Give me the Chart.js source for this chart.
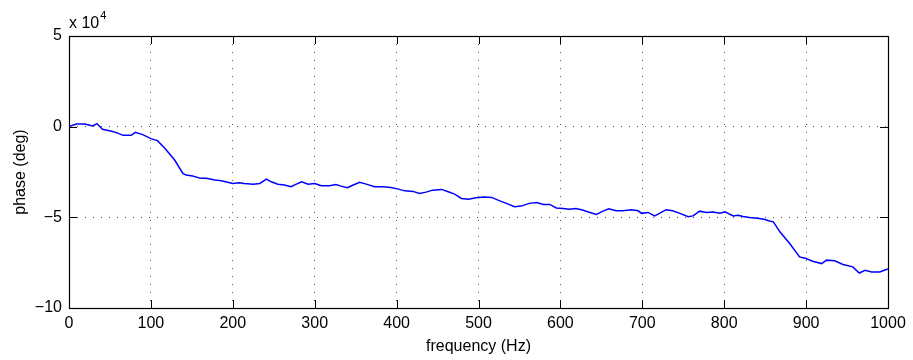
<!DOCTYPE html>
<html>
<head>
<meta charset="utf-8">
<script src="https://cdn.jsdelivr.net/npm/chart.js@4/dist/chart.umd.min.js"></script>
<style>
  html, body { margin: 0; padding: 0; background: #fff; }
  #wrap { width: 913px; height: 360px; position: relative; }
</style>
</head>
<body>
<div id="wrap"><canvas id="c"></canvas></div>
<script>
// frequency (Hz)
const freqHz = [0, 9, 19, 29, 34, 41, 52, 58, 66, 76, 81, 90, 100, 108, 117, 129, 139, 143, 151, 161,
  168, 178, 186, 200, 208, 214, 225, 233, 241, 247, 255, 263, 271, 277, 284, 292, 300, 308, 318, 326,
  332, 340, 347, 355, 363, 373, 383, 393, 401, 410, 420, 428, 436, 444, 455, 463, 471, 479, 488, 497,
  507, 516, 526, 534, 544, 552, 562, 571, 579, 587, 595, 603, 611, 619, 627, 636, 644, 652, 659, 668,
  676, 687, 695, 699, 707, 715, 721, 729, 737, 746, 756, 762, 770, 778, 786, 795, 801, 811, 817, 823,
  831, 843, 850, 854, 860, 868, 880, 892, 900, 908, 919, 925, 935, 945, 957, 965, 972, 980, 990, 998, 1000];
// phase (deg)
const phaseDeg = [0, 1500, 1500, 400, 1700, -1400, -2500, -3300, -4800, -4800, -3100, -4400, -6600, -7700, -11900, -18400, -25800, -26700, -27200, -28500,
  -28500, -29400, -29800, -31300, -30900, -31300, -31700, -31300, -28900, -30400, -31700, -32200, -33100, -31800, -30400, -31700, -31300, -32600, -32600, -31900,
  -32800, -33700, -32200, -30700, -31700, -33100, -33100, -33500, -34300, -35400, -35700, -36800, -36100, -35000, -34600, -35900, -37200, -39600, -40000, -39200,
  -38800, -39000, -40900, -42300, -44200, -43800, -42300, -41800, -42900, -42900, -44800, -45100, -45600, -45100, -46000, -47300, -48400, -46600, -45300, -46400,
  -46400, -45800, -46400, -47800, -47300, -49200, -47800, -45800, -46400, -47800, -49700, -49200, -46600, -47300, -47000, -47800, -47000, -49200, -48800, -49500,
  -50100, -50600, -51200, -51900, -52500, -58000, -64400, -71800, -72700, -74200, -75500, -73600, -74000, -76000, -77300, -80700, -79200, -80100, -80100, -78800, -78500];

const xTicks = [0, 100, 200, 300, 400, 500, 600, 700, 800, 900, 1000];
const yTicks = [-100000, -50000, 0, 50000];
const yExponent = 4;

const points = freqHz.map((f, i) => ({ x: f, y: phaseDeg[i] }));

const FONT = "'Liberation Sans', Arial, Helvetica, sans-serif";
const TICK_SIZE = 16;
const TITLE_SIZE = 16;

const matlabBox = {
  id: 'matlabBox',
  afterDatasetsDraw(chart) {
    const { ctx, chartArea: a, scales } = chart;
    const xs = scales.x, ys = scales.y;
    const L = 8;
    ctx.save();
    ctx.strokeStyle = '#000';
    ctx.lineWidth = 1;
    ctx.beginPath();
    xTicks.forEach(v => {
      const px = Math.round(xs.getPixelForValue(v)) + 0.5;
      ctx.moveTo(px, a.bottom); ctx.lineTo(px, a.bottom - L);
      ctx.moveTo(px, a.top); ctx.lineTo(px, a.top + L);
    });
    yTicks.forEach(v => {
      const py = Math.round(ys.getPixelForValue(v)) + 0.5;
      ctx.moveTo(a.left, py); ctx.lineTo(a.left + L, py);
      ctx.moveTo(a.right, py); ctx.lineTo(a.right - L, py);
    });
    ctx.stroke();
    ctx.lineWidth = 1.2;
    ctx.strokeRect(Math.round(a.left) + 0.5, Math.round(a.top) + 0.5,
      Math.round(a.right - a.left), Math.round(a.bottom - a.top));
    // exponent label
    ctx.fillStyle = '#000';
    ctx.textBaseline = 'alphabetic';
    ctx.textAlign = 'left';
    ctx.font = TICK_SIZE + 'px ' + FONT;
    const base = 'x 10';
    ctx.fillText(base, a.left, a.top - 8);
    const w = ctx.measureText(base).width;
    ctx.font = '11px ' + FONT;
    ctx.fillText(String(yExponent), a.left + w + 1, a.top - 17);
    ctx.restore();
  }
};

new Chart(document.getElementById('c'), {
  type: 'line',
  data: {
    datasets: [{
      data: points,
      borderColor: '#0000ff',
      borderWidth: 1.5,
      pointRadius: 0,
      tension: 0,
      fill: false
    }]
  },
  options: {
    responsive: true,
    maintainAspectRatio: false,
    animation: false,
    layout: { padding: { top: 36, right: 25, left: 0, bottom: 0 } },
    plugins: { legend: { display: false }, tooltip: { enabled: false } },
    scales: {
      x: {
        type: 'linear',
        min: 0, max: 1000,
        afterBuildTicks: s => { s.ticks = xTicks.map(v => ({ value: v })); },
        afterFit: s => { s.height = 52; },
        ticks: {
          color: '#000', font: { family: FONT, size: TICK_SIZE }, padding: 6, maxRotation: 0, autoSkip: false,
          callback: v => String(v)
        },
        grid: {
          drawTicks: false,
          color: c => (c.tick && (c.tick.value === 0 || c.tick.value === 1000)) ? 'rgba(0,0,0,0)' : 'rgba(0,0,0,0.65)',
          lineWidth: 1
        },
        border: { display: false, dash: [1, 7] },
        title: { display: true, text: 'frequency (Hz)', color: '#000', font: { family: FONT, size: TITLE_SIZE }, padding: { top: 0, bottom: 4 } }
      },
      y: {
        type: 'linear',
        min: -100000, max: 50000,
        afterBuildTicks: s => { s.ticks = yTicks.map(v => ({ value: v })); },
        afterFit: s => { s.width = 69; },
        ticks: {
          color: '#000', font: { family: FONT, size: TICK_SIZE }, padding: 7,
          callback: v => { const n = v / Math.pow(10, yExponent); return n < 0 ? '\u2212' + Math.abs(n) : String(n); }
        },
        grid: {
          drawTicks: false,
          color: c => (c.tick && (c.tick.value === -100000 || c.tick.value === 50000)) ? 'rgba(0,0,0,0)' : 'rgba(0,0,0,0.65)',
          lineWidth: 1
        },
        border: { display: false, dash: [1, 7] },
        title: { display: true, text: 'phase (deg)', color: '#000', font: { family: FONT, size: TITLE_SIZE }, padding: { top: 11, bottom: 0 } }
      }
    }
  },
  plugins: [matlabBox]
});
</script>
</body>
</html>
